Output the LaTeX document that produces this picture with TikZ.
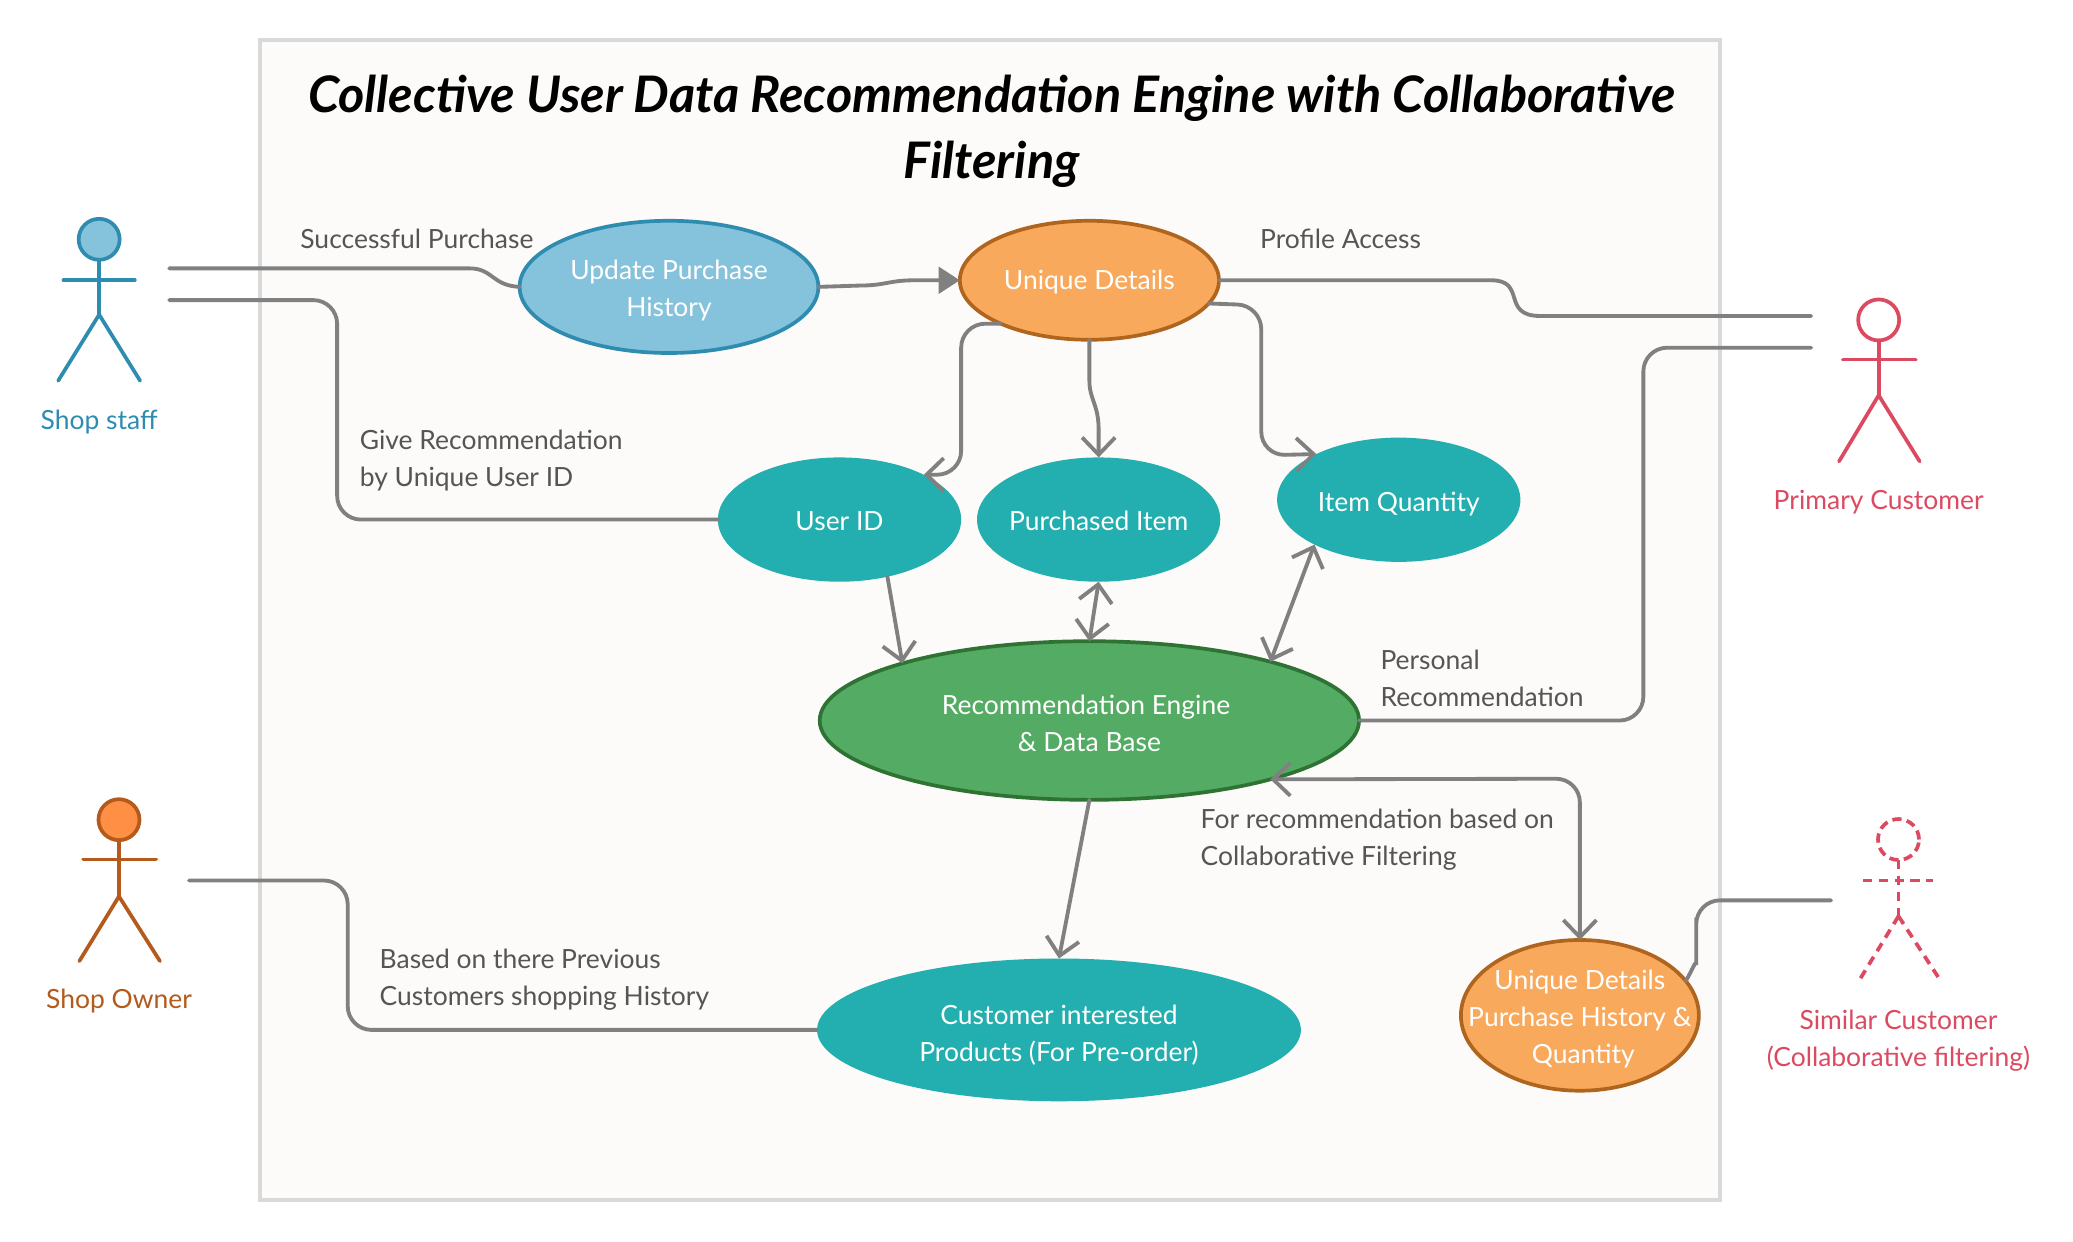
\documentclass[tikz,border=0pt]{standalone}
\usepackage{fontspec}
\setmainfont{Lato}
\usetikzlibrary{arrows.meta,shapes.geometric}
\definecolor{framec}{HTML}{D9D9D9}
\definecolor{paper}{HTML}{FCFBF9}
\definecolor{conn}{HTML}{808080}
\definecolor{labc}{HTML}{555555}
\definecolor{bluef}{HTML}{85C2DC}
\definecolor{blued}{HTML}{2E8CB0}
\definecolor{orgf}{HTML}{F9A95C}
\definecolor{orgd}{HTML}{B0651F}
\definecolor{teal1}{HTML}{23AFAF}
\definecolor{greenf}{HTML}{54AB63}
\definecolor{greend}{HTML}{2E7333}
\definecolor{ownf}{HTML}{FF8F45}
\definecolor{ownd}{HTML}{B35A1C}
\definecolor{redc}{HTML}{DC4A62}
\newcommand\uctext[2]{\vbox{\vskip#1pt\hbox{\begin{tabular}{@{}c@{}}#2\end{tabular}}}}
\tikzset{
  txt/.style={font=\fontsize{20}{28}\selectfont},
  usecase/.style={ellipse,inner sep=0pt,outer sep=0pt,text=white,txt,line width=2.8pt},
  tealcase/.style={usecase,fill=teal1,inner xsep=-10pt},
  edgelabel/.style={txt,text=labc,align=left,anchor=west,inner sep=0pt},
  actorlabel/.style={txt,align=center,inner sep=0pt},
  link/.style={draw=conn,line width=2.9pt,line cap=round,rounded corners=18pt},
  curved link/.style={draw=conn,line width=2.9pt,line cap=round,sharp corners},
  barb/.tip={Straight Barb[length=13pt,width=25pt,line width=2.9pt]},
  solidtip/.tip={Triangle[length=16pt,width=20pt]},
  limb/.style={line width=2.8pt,line cap=round},
}
\begin{document}
\begin{tikzpicture}[x=1pt,y=-1pt]
\useasboundingbox (0,0) rectangle (1568,938.7);
\fill[white] (0,0) rectangle (1568,938.7);
\draw[draw=framec,fill=paper,line width=3pt] (196.5,30) rectangle (1301,908);
\node[align=center,inner sep=0pt,font=\fontsize{38.1}{50}\selectfont\bfseries\itshape,text=black] (title) at (750,99.5)
  {Collective User Data Recommendation Engine with Collaborative\\Filtering};

% use cases
\node[usecase,fill=bluef,draw=blued,minimum width=226pt,minimum height=100pt] (update) at (506,217) {\uctext{5}{Update Purchase\\History}};
\node[usecase,fill=orgf,draw=orgd,minimum width=196pt,minimum height=90pt] (unique) at (824,212) {\uctext{3}{Unique Details}};
\node[tealcase,minimum width=184pt,minimum height=94pt] (userid) at (635,393) {\uctext{5}{User ID}};
\node[tealcase,minimum width=184pt,minimum height=94pt] (purchased) at (831,393) {\uctext{5}{Purchased Item}};
\node[tealcase,minimum width=184pt,minimum height=94pt] (itemq) at (1058,378) {\uctext{6}{Item Quantity}};
\node[usecase,fill=greenf,draw=greend,minimum width=408pt,minimum height=120pt] (engine) at (824,545) {\uctext{7}{Recommendation Engine~~\\\& Data Base}};
\node[tealcase,minimum width=366pt,minimum height=108pt] (interest) at (801,779) {\uctext{8}{Customer interested\\Products (For Pre-order)~}};
\node[usecase,fill=orgf,draw=orgd,inner xsep=-35pt,inner ysep=-8pt,minimum width=180pt,minimum height=114pt] (details) at (1195,768) {\uctext{5}{Unique Details\\Purchase History \&\\\ Quantity}};

% actors
\begin{scope}[blued,limb]
\node[circle,draw=blued,fill=bluef,line width=2.8pt,minimum size=31pt,inner sep=0pt,outer sep=0pt] (staffhead) at (75,181) {};
\coordinate (staffhip) at (75,238);
\draw (staffhead.south) -- (staffhip);
\draw (48,212) -- (102,212);
\draw (44,288) -- (staffhip) -- (106,288);
\end{scope}
\node[actorlabel,text=blued] (stafflabel) at (75,319) {Shop staff};

\begin{scope}[redc,limb]
\node[circle,draw=redc,line width=2.8pt,minimum size=31pt,inner sep=0pt,outer sep=0pt] (primaryhead) at (1421,242) {};
\coordinate (primaryhip) at (1421,299);
\draw (primaryhead.south) -- (primaryhip);
\draw (1394,272) -- (1449,272);
\draw (1391,349) -- (primaryhip) -- (1452,349);
\end{scope}
\node[actorlabel,text=redc] (primarylabel) at (1421,380) {Primary Customer};

\begin{scope}[ownd,limb]
\node[circle,draw=ownd,fill=ownf,line width=2.8pt,minimum size=31pt,inner sep=0pt,outer sep=0pt] (ownerhead) at (90,620) {};
\coordinate (ownerhip) at (90,678);
\draw (ownerhead.south) -- (ownerhip);
\draw (63,650) -- (118,650);
\draw (60,727) -- (ownerhip) -- (121,727);
\end{scope}
\node[actorlabel,text=ownd] (ownerlabel) at (90,757) {Shop Owner};

\begin{scope}[redc,limb,dash pattern=on 7pt off 5pt,line cap=butt]
\node[circle,draw=redc,line width=2.8pt,dash pattern=on 7pt off 4pt,minimum size=31pt,inner sep=0pt,outer sep=0pt] (similarhead) at (1436,635) {};
\coordinate (similarhip) at (1436,693);
\draw (similarhead.south) -- (similarhip);
\draw (1409,666) -- (1462,666);
\draw (similarhip) -- (1406,742);
\draw (similarhip) -- (1466,739);
\end{scope}
\node[actorlabel,text=redc] (similarlabel) at (1436,787) {Similar Customer\\(Collaborative filtering)};

% free ends
\coordinate (staffa) at (128,203);
\coordinate (staffb) at (128,227);
\coordinate (primarya) at (1370,239);
\coordinate (primaryb) at (1370,263);
\coordinate (ownerc) at (143,666);
\coordinate (similarc) at (1385,681);

% connectors
\draw[curved link] (staffa) -- (355,203) .. controls (373,203) and (372,216) .. (update.west);
\draw[link] (staffb) -- (255,227) -- (255,393) -- (userid.west);
\draw[curved link,-{solidtip}] (update.east) -- (650,216) .. controls (670,216) and (672,212) .. (692,212) -- (unique.west);
\draw[curved link] (unique.east) -- (1128,212) .. controls (1155,212) and (1135,239) .. (1165,239) -- (primarya);
\draw[link,-{barb}] (unique.206.6) -- (727,245) -- (727,359) -- (userid.28);
\draw[curved link,-{barb}] (unique.south) -- (824,288) .. controls (824,302) and (831,306) .. (831,325) -- (purchased.north);
\draw[link,-{barb}] (unique.-11.8) -- (954,231) -- (954,344.5) -- (itemq.151);
\draw[link,-{barb}] (userid.-50) -- (engine.163);
\draw[link,{barb}-{barb}] (purchased.south) -- (engine.north);
\draw[link,{barb}-{barb}] (itemq.208.9) -- (engine.18);
\draw[link] (engine.east) -- (1243,545) -- (1243,263) -- (primaryb);
\draw[link,{barb}-{barb}] (engine.-18) -- (1195,589) -- (details.north);
\draw[link] (details.18) .. controls (1281,732) and (1283,725) .. (1283,712) -- (1283,681) -- (similarc);
\draw[link,-{barb}] (engine.south) -- (interest.north);
\draw[link] (ownerc) -- (263,666) -- (263,779) -- (interest.west);

% connector labels
\node[edgelabel] (l1) at (227,181) {Successful Purchase};
\node[edgelabel] (l2) at (953,181) {Profile Access};
\node[edgelabel] (l3) at (272,348) {Give Recommendation\\by Unique User ID};
\node[edgelabel] (l4) at (1044,513) {Personal\\Recommendation};
\node[edgelabel] (l5) at (908,635) {For recommendation based on\\Collaborative Filtering};
\node[edgelabel] (l6) at (287,741) {Based on there Previous\\Customers shopping History};
\end{tikzpicture}
\end{document}
